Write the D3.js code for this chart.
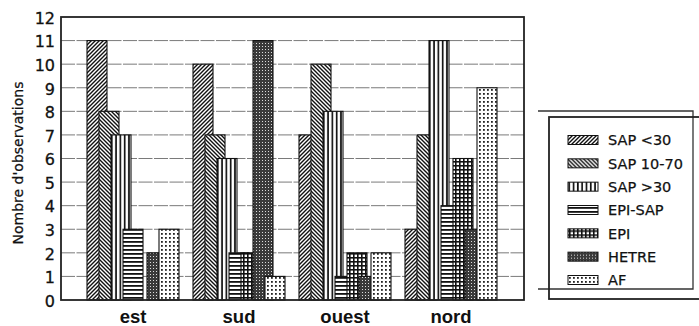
<!DOCTYPE html>
<html><head><meta charset="utf-8">
<script src="https://cdn.jsdelivr.net/npm/d3@7"></script>
<style>
html,body{margin:0;padding:0;background:#fff;}
svg{display:block;}
</style></head>
<body>
<svg id="chart" width="699" height="326"></svg>
<script>
const categories = ["est", "sud", "ouest", "nord"];
const seriesNames = ["SAP <30", "SAP 10-70", "SAP >30", "EPI-SAP", "EPI", "HETRE", "AF"];
const sapLt30  = [11, 10, 7, 3];
const sap1070  = [8, 7, 10, 7];
const sapGt30  = [7, 6, 8, 11];
const epiSap   = [3, 2, 1, 4];
const epi      = [0, 2, 2, 6];
const hetre    = [2, 11, 1, 3];
const af       = [3, 1, 2, 9];
const yTicks   = [0,1,2,3,4,5,6,7,8,9,10,11,12];
const yTitle   = "Nombre d'observations";

const seriesValues = [sapLt30, sap1070, sapGt30, epiSap, epi, hetre, af];
const patternIds = ["pDiagUp","pDiagDown","pVert","pHoriz","pGrid","pHetre","pAF"];

const svg = d3.select("#chart");
const defs = svg.append("defs");

function pat(id, w, h, bg) {
  const p = defs.append("pattern").attr("id", id).attr("patternUnits", "userSpaceOnUse")
    .attr("width", w).attr("height", h);
  p.append("rect").attr("width", w).attr("height", h).attr("fill", bg || "#fff");
  return p;
}
let p;
p = pat("pDiagUp", 4, 4);
p.append("path").attr("d", "M-1,1 l2,-2 M0,4 l4,-4 M3,5 l2,-2").attr("stroke", "#111").attr("stroke-width", 1.4);
p = pat("pDiagDown", 4, 4);
p.append("path").attr("d", "M-1,3 l2,2 M0,0 l4,4 M3,-1 l2,2").attr("stroke", "#111").attr("stroke-width", 1.4);
p = pat("pVert", 4.3, 4);
p.append("rect").attr("x", 0.8).attr("y", 0).attr("width", 1.7).attr("height", 4).attr("fill", "#111");
p = pat("pHoriz", 4, 4);
p.append("rect").attr("x", 0).attr("y", 1).attr("width", 4).attr("height", 1.8).attr("fill", "#111");
p = pat("pGrid", 4, 4);
p.append("rect").attr("x", 0).attr("y", 1).attr("width", 4).attr("height", 1.6).attr("fill", "#111");
p.append("rect").attr("x", 1).attr("y", 0).attr("width", 1.6).attr("height", 4).attr("fill", "#111");
p = pat("pHetre", 3, 3, "#3a3a3a");
p.append("rect").attr("x", 1).attr("y", 1).attr("width", 1).attr("height", 1).attr("fill", "#ddd");
p = pat("pAF", 4, 4);
p.append("rect").attr("x", 1).attr("y", 1).attr("width", 1.8).attr("height", 1.8).attr("fill", "#222");

// plot area
const plotL = 61, plotR = 524, plotT = 17, plotB = 300;
const y = d3.scaleLinear().domain([0, 12]).range([plotB, plotT]);
const x0 = d3.scaleBand().domain(categories).range([80, 504]).paddingInner(0).paddingOuter(0);
const xi = d3.scalePoint().domain(seriesNames).range([7, 79]);
const barW = 20;

// gridlines
svg.append("g").selectAll("line").data(yTicks.filter(t => t > 0 && t < 12)).join("line")
  .attr("x1", plotL).attr("x2", plotR)
  .attr("y1", d => y(d)).attr("y2", d => y(d))
  .attr("stroke", "#7a7a7a").attr("stroke-width", 1).attr("stroke-dasharray", "14,1.5");

// bars
const gCat = svg.append("g").selectAll("g").data(categories).join("g")
  .attr("transform", d => `translate(${x0(d)},0)`);
gCat.each(function(cat, ci) {
  const g = d3.select(this);
  seriesNames.forEach((s, si) => {
    const v = seriesValues[si][ci];
    if (v <= 0) return;
    g.append("rect")
      .attr("x", xi(s)).attr("width", barW)
      .attr("y", y(v)).attr("height", y(0) - y(v))
      .attr("fill", `url(#${patternIds[si]})`)
      .attr("stroke", "#111").attr("stroke-width", 1.1);
  });
});

// frame
svg.append("rect").attr("x", plotL).attr("y", plotT).attr("width", plotR - plotL).attr("height", plotB - plotT)
  .attr("fill", "none").attr("stroke", "#222").attr("stroke-width", 1.8);

// y tick labels
svg.append("g").selectAll("text").data(yTicks).join("text")
  .attr("x", 55).attr("y", d => y(d) + 1)
  .attr("dy", "0.36em")
  .attr("text-anchor", "end")
  .attr("font-family", "DejaVu Sans, sans-serif").attr("font-size", 16)
  .attr("fill", "#111").attr("stroke", "#111").attr("stroke-width", 0.3)
  .text(d => d);

// category labels
svg.append("g").selectAll("text").data(categories).join("text")
  .attr("x", d => x0(d) + x0.bandwidth() / 2)
  .attr("y", 323)
  .attr("text-anchor", "middle")
  .attr("font-family", "Liberation Sans, Arial, sans-serif").attr("font-weight", "bold").attr("font-size", 18.5)
  .attr("fill", "#111")
  .text(d => d);

// y title
svg.append("text")
  .attr("transform", "translate(23,163) rotate(-90)")
  .attr("text-anchor", "middle")
  .attr("font-family", "DejaVu Sans, sans-serif").attr("font-size", 14)
  .attr("fill", "#111").attr("stroke", "#111").attr("stroke-width", 0.25)
  .text(yTitle);

// legend frames
const lg = svg.append("g");
lg.append("path").attr("d", "M538,111 H693 V289 H538").attr("fill", "none").attr("stroke", "#333").attr("stroke-width", 1.3);
lg.append("rect").attr("x", 549).attr("y", 117).attr("width", 170).attr("height", 182)
  .attr("fill", "none").attr("stroke", "#222").attr("stroke-width", 1.8);

const ly = d3.scalePoint().domain(seriesNames).range([140, 280]);
const items = lg.selectAll("g.item").data(seriesNames).join("g").attr("class", "item")
  .attr("transform", d => `translate(0,${ly(d)})`);
items.append("rect").attr("x", 568).attr("y", -4.5).attr("width", 30).attr("height", 9)
  .attr("fill", (d, i) => `url(#${patternIds[i]})`).attr("stroke", "#111").attr("stroke-width", 1);
items.append("text").attr("x", 608).attr("y", 0).attr("dy", "0.36em")
  .attr("font-family", "DejaVu Sans, sans-serif").attr("font-size", 14.5)
  .attr("fill", "#111").attr("stroke", "#111").attr("stroke-width", 0.25)
  .text(d => d);
</script>
</body></html>
